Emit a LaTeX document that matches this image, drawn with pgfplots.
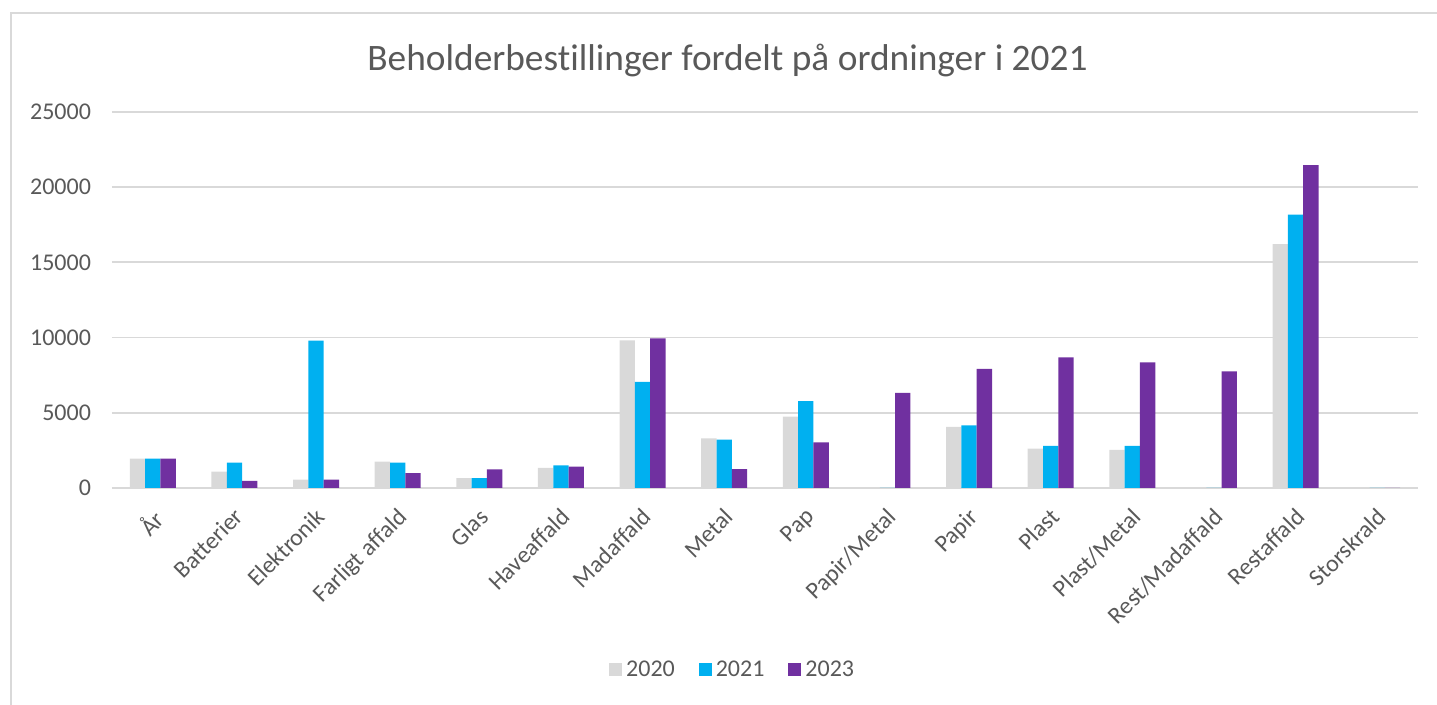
\documentclass[border=0pt]{standalone}
\usepackage{pgfplots}
\pgfplotsset{compat=1.18}
\usepackage{pgfplotstable}
\usepackage{fontspec}
\setmainfont{Carlito}[Ligatures={NoCommon}]
\definecolor{txt}{HTML}{595959}
\definecolor{gridc}{HTML}{D9D9D9}
\definecolor{c2020}{HTML}{D9D9D9}
\definecolor{c2021}{HTML}{00B0F0}
\definecolor{c2023}{HTML}{7030A0}

\pgfplotstableread{
x y2020 y2021 y2023
0 1950 1950 1950
1 1080 1680 480
2 560 9800 560
3 1760 1680 990
4 650 650 1240
5 1330 1500 1420
6 9820 7060 9940
7 3300 3220 1250
8 4740 5780 3040
9 0 0 6320
10 4070 4160 7920
11 2610 2800 8690
12 2540 2800 8350
13 0 0 7760
14 16220 18180 21460
15 0 0 0
}\datatable

\begin{document}
\begin{tikzpicture}
\path[use as bounding box] (0,0) rectangle (718.5pt,352.5pt);
\draw[draw=gridc, line width=1pt] (5.5pt,0) -- (5.5pt,346pt) -- (718.5pt,346pt);
\node[text=txt, font=\fontsize{18.67}{22}\selectfont] at (363.75pt,322.5pt) {Beholderbestillinger fordelt på ordninger i 2021};
\begin{axis}[
  at={(56pt,108.5pt)}, anchor=south west,
  scale only axis, width=653pt, height=188pt,
  xmin=-0.5, xmax=15.5, ymin=0, ymax=25000,
  ybar=0pt, bar width=7.65pt,
  xtick={0,...,15},
  xticklabels={År, Batterier, Elektronik, Farligt affald, Glas, Haveaffald, Madaffald, Metal, Pap, Papir/Metal, Papir, Plast, Plast/Metal, Rest/Madaffald, Restaffald, Storskrald},
  ytick={0,5000,10000,15000,20000,25000},
  scaled y ticks=false,
  /pgf/number format/1000 sep={},
  /pgf/number format/assume math mode=true,
  xmajorgrids=false, ymajorgrids=true,
  grid style={draw=gridc, line width=0.9pt},
  major tick length=0pt,
  xtick style={draw=none}, ytick style={draw=none},
  axis x line*=bottom, axis y line*=left,
  x axis line style={draw=gridc, line width=1.2pt, -},
  y axis line style={draw=none},
  tick label style={text=txt, font=\fontsize{12}{14}\selectfont},
  xticklabel style={rotate=45, anchor=north east, inner sep=1pt, xshift=-6pt, yshift=-5pt},
  yticklabel style={xshift=-7pt},
  legend style={at={(0.476,-0.484)}, anchor=center, draw=none, fill=none,
    font=\fontsize{12}{14}\selectfont, text=txt, legend columns=3,
    /tikz/every even column/.append style={column sep=10pt}},
  legend image code/.code={\fill[#1] (0pt,-3.25pt) rectangle (6.5pt,3.25pt);},
]
\addplot[fill=c2020, draw=none] table[x=x, y=y2020] {\datatable};
\addplot[fill=c2021, draw=none] table[x=x, y=y2021] {\datatable};
\addplot[fill=c2023, draw=none] table[x=x, y=y2023] {\datatable};
\legend{2020, 2021, 2023}
\end{axis}
\end{tikzpicture}
\end{document}
